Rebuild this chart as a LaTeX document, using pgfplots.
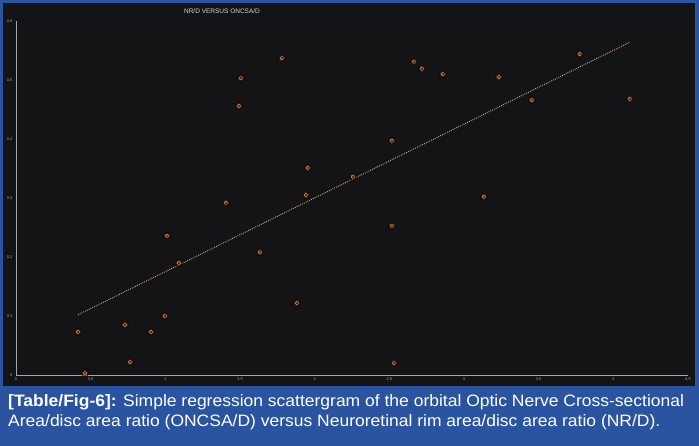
\documentclass[border=0pt]{standalone}
\usepackage{fontspec}
\setmainfont{Liberation Sans}
\newfontfamily\capfont[FakeStretch=1.06]{Liberation Sans}
\usepackage{pgfplots}
\usepackage{pgfplotstable}
\pgfplotsset{compat=1.18}
\definecolor{capblue}{RGB}{42,83,160}
\definecolor{bgdark}{RGB}{20,20,22}
\definecolor{ptorange}{RGB}{242,140,80}
\definecolor{lineor}{RGB}{235,180,140}
\definecolor{axgray}{RGB}{165,165,165}
\pgfplotstableread{
x y
1.780 0.537
1.506 0.503
1.493 0.456
1.954 0.351
1.941 0.305
2.256 0.336
2.517 0.397
2.664 0.531
2.718 0.519
2.858 0.510
3.233 0.505
3.775 0.544
3.454 0.466
4.110 0.468
3.133 0.302
1.406 0.292
1.011 0.236
1.091 0.190
1.633 0.208
1.881 0.122
0.415 0.073
0.730 0.085
0.904 0.073
0.997 0.100
0.763 0.022
0.462 0.003
2.517 0.253
2.530 0.020
}\pts
\begin{document}
\begin{tikzpicture}[x=1pt,y=1pt]
\fill[capblue] (0,0) rectangle (699,446);
\fill[bgdark] (3,60) rectangle (695,443);
\begin{axis}[
  at={(16pt,71pt)}, anchor=south west,
  scale only axis, width=672pt, height=354pt,
  xmin=0, xmax=4.5, ymin=0, ymax=0.6,
  axis lines=left,
  axis line style={-, axgray, line width=0.8pt},
  xtick={0,0.5,...,4.5},
  ytick={0,0.1,...,0.6},
  major tick length=0pt,
  /pgf/number format/assume math mode=true,
  /pgf/number format/fixed,
  tick label style={font=\fontsize{4}{4}\selectfont, text=axgray},
  xticklabel style={yshift=1pt},
  clip=false,
]
\addplot[only marks, mark=*, mark size=3.6pt, mark options={fill=ptorange, draw=none, fill opacity=0.15}] table {\pts};
\addplot[only marks, mark=*, mark size=2.3pt, mark options={fill=ptorange, draw=none}] table {\pts};
\addplot[only marks, mark=*, mark size=1.1pt, mark options={fill=ptorange!55!white, draw=none}] table {\pts};
\addplot[lineor, line width=0.9pt, dash pattern=on 0.8pt off 1.2pt] coordinates {(0.415,0.102) (4.11,0.564)};
\end{axis}
\node[font=\fontsize{6.5}{7}\selectfont, text=white!85!black] at (222,435) {NR/D VERSUS ONCSA/D};
\node[anchor=base west, inner sep=0, text=white, font=\capfont\fontsize{16.5}{18}\selectfont] at (8,39) {\textbf{[Table/Fig-6]:} Simple regression scattergram of the orbital Optic Nerve Cross-sectional};
\node[anchor=base west, inner sep=0, text=white, font=\capfont\fontsize{16.5}{18}\selectfont] at (8,19) {Area/disc area ratio (ONCSA/D) versus Neuroretinal rim area/disc area ratio (NR/D).};
\pgfresetboundingbox
\path (0,0) rectangle (699,446);
\end{tikzpicture}
\end{document}
